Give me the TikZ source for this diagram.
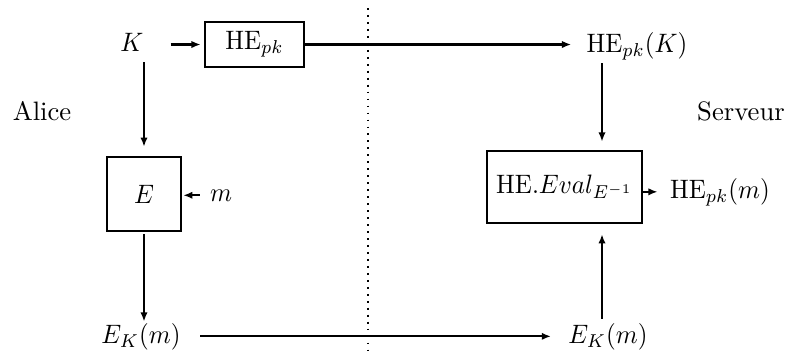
\documentclass[tikz,border=0pt]{standalone}
\usepackage{graphicx}
\usetikzlibrary{arrows.meta}
\newcommand\T[1]{\scalebox{1.22}[1.3]{#1}}
\newcommand\TL[1]{\scalebox{1.3}{#1}}
\begin{document}
\begin{tikzpicture}[x=0.4878pt,y=-0.4878pt,
  txt/.style={inner sep=0pt, anchor=base},
  box/.style={draw, line width=1.2pt, inner sep=0pt},
  arr/.style={line width=1.1pt, -{Latex[length=4.5pt,width=3.6pt]}},
  dots/.style={line width=0.9pt, dash pattern=on 0.9pt off 2.5pt}]
\useasboundingbox (0,0) rectangle (795,356);
% texts
\node[txt] (alice) at (42,120) {\TL{Alice}};
\node[txt] (serveur) at (741,120) {\TL{Serveur}};
\node[txt] (K) at (132,51) {\T{$K$}};
\node[txt] (hepkK) at (637,52) {\T{$\mathrm{HE}_{pk}(K)$}};
\node[txt] (m) at (221,201) {\T{$m$}};
\node[txt] (hepkm) at (720,198) {\T{$\mathrm{HE}_{pk}(m)$}};
\node[txt] (EKm1) at (141,343) {\T{$E_K(m)$}};
\node[txt] (EKm2) at (608,343) {\T{$E_K(m)$}};
% boxes
\node[box, minimum width=48.3pt, minimum height=21.95pt] (hepk) at (254.5,44.5) {\T{$\mathrm{HE}_{pk}$}};
\node[box, minimum width=36.1pt, minimum height=36.1pt] (E) at (144,194) {\T{$E$}};
\node[box, minimum width=75.6pt, minimum height=35.1pt] (eval) at (564.5,187) {\T{$\mathrm{HE}.Eval_{E^{-1}}$}};
% column of the right arrows
\coordinate (col) at (602,0);
% separator
\coordinate (septop) at (368,8);
\coordinate (sepbot) at (368,356);
\draw[dots] (septop) -- (sepbot);
% connectors
\draw[arr, shorten <=13pt, shorten >=1.5pt] (K.east |- hepk.west) -- (hepk.west);
\draw[arr, shorten >=7.3pt] (hepk.east) -- (hepkK.west |- hepk.east);
\draw[arr, shorten <=5.4pt, shorten >=4.4pt] (E.north |- K.south) -- (E.north);
\draw[arr, shorten <=4.9pt, shorten >=0.5pt] (m.west) -- (E.east |- m.west);
\draw[arr, shorten <=1pt, shorten >=0.5pt] (E.south) -- (E.south |- EKm1.north);
\draw[arr, shorten <=9.3pt, shorten >=8.3pt] (EKm1.east) -- (EKm2.west);
\draw[arr, shorten <=2pt, shorten >=4.9pt] (col |- EKm2.north) -- (col |- eval.south);
\draw[arr, shorten <=1.6pt, shorten >=4pt] (col |- hepkK.south) -- (col |- eval.north);
\draw[arr, shorten >=5.9pt] (eval.east |- hepkm.west) -- (hepkm.west);
\end{tikzpicture}
\end{document}
